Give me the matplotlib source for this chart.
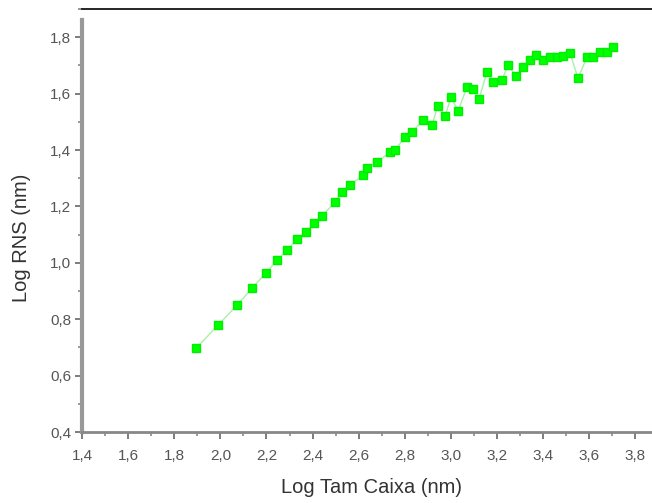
import matplotlib
matplotlib.use("Agg")
import matplotlib.pyplot as plt
from matplotlib.ticker import MultipleLocator, FuncFormatter

# Log box size vs Log RMS values
log_tam = [1.895, 1.990, 2.072, 2.138, 2.198, 2.246, 2.289, 2.333, 2.372, 2.407,
           2.441, 2.498, 2.528, 2.563, 2.619, 2.636, 2.680, 2.736, 2.758, 2.801,
           2.832, 2.879, 2.918, 2.944, 2.975, 3.001, 3.031, 3.070, 3.096, 3.122,
           3.157, 3.183, 3.222, 3.248, 3.283, 3.313, 3.344, 3.370, 3.400, 3.430,
           3.461, 3.487, 3.517, 3.552, 3.591, 3.617, 3.647, 3.678, 3.704]
log_rns = [0.698, 0.779, 0.850, 0.911, 0.964, 1.010, 1.045, 1.084, 1.109, 1.141,
           1.166, 1.216, 1.251, 1.276, 1.311, 1.336, 1.357, 1.393, 1.400, 1.446,
           1.464, 1.506, 1.489, 1.556, 1.521, 1.588, 1.538, 1.623, 1.616, 1.581,
           1.677, 1.641, 1.648, 1.701, 1.662, 1.694, 1.719, 1.737, 1.719, 1.730,
           1.730, 1.733, 1.744, 1.655, 1.730, 1.730, 1.748, 1.748, 1.765]

plt.rcParams['font.family'] = ['Liberation Sans', 'DejaVu Sans']

fig = plt.figure(figsize=(6.52, 5.03), dpi=100)
ax = fig.add_axes([0.126, 0.141, 0.874, 0.841])

ax.plot(log_tam, log_rns, '-', color='#a8f0a8', lw=1.0, zorder=2)
ax.plot(log_tam, log_rns, 's', color='#00ff00', ms=5.2, mec='#00ee00', zorder=3)

ax.set_xlim(1.4, 3.873)
ax.set_ylim(0.4, 1.9)

comma = FuncFormatter(lambda v, p: f"{v:.1f}".replace('.', ','))
ax.xaxis.set_major_locator(MultipleLocator(0.2))
ax.xaxis.set_minor_locator(MultipleLocator(0.1))
ax.yaxis.set_major_locator(MultipleLocator(0.2))
ax.yaxis.set_minor_locator(MultipleLocator(0.1))
ax.xaxis.set_major_formatter(comma)
ax.yaxis.set_major_formatter(comma)

ax.tick_params(which='major', direction='out', length=5, width=1.2, color='#666666',
               labelsize=11, labelcolor='#555555')
ax.tick_params(which='minor', direction='out', length=3, width=1.2, color='#888888')
ax.tick_params(axis='x', pad=7)
ax.tick_params(axis='y', pad=3)

ax.spines['right'].set_visible(False)
ax.spines['top'].set_color('black')
ax.spines['top'].set_linewidth(1.2)
ax.spines['left'].set_color('#999999')
ax.spines['left'].set_linewidth(3)
ax.spines['left'].set_bounds(0.4, 1.86)
ax.spines['bottom'].set_color('#888888')
ax.spines['bottom'].set_linewidth(2)

ax.set_xlabel("Log Tam Caixa (nm)", fontsize=14.5, color='#333333')
ax.set_ylabel("Log RNS (nm)", fontsize=14.5, color='#333333')
ax.xaxis.set_label_coords(0.507, -0.108)
ax.yaxis.set_label_coords(-0.09, 0.46)

fig.savefig("out.png", dpi=100)
